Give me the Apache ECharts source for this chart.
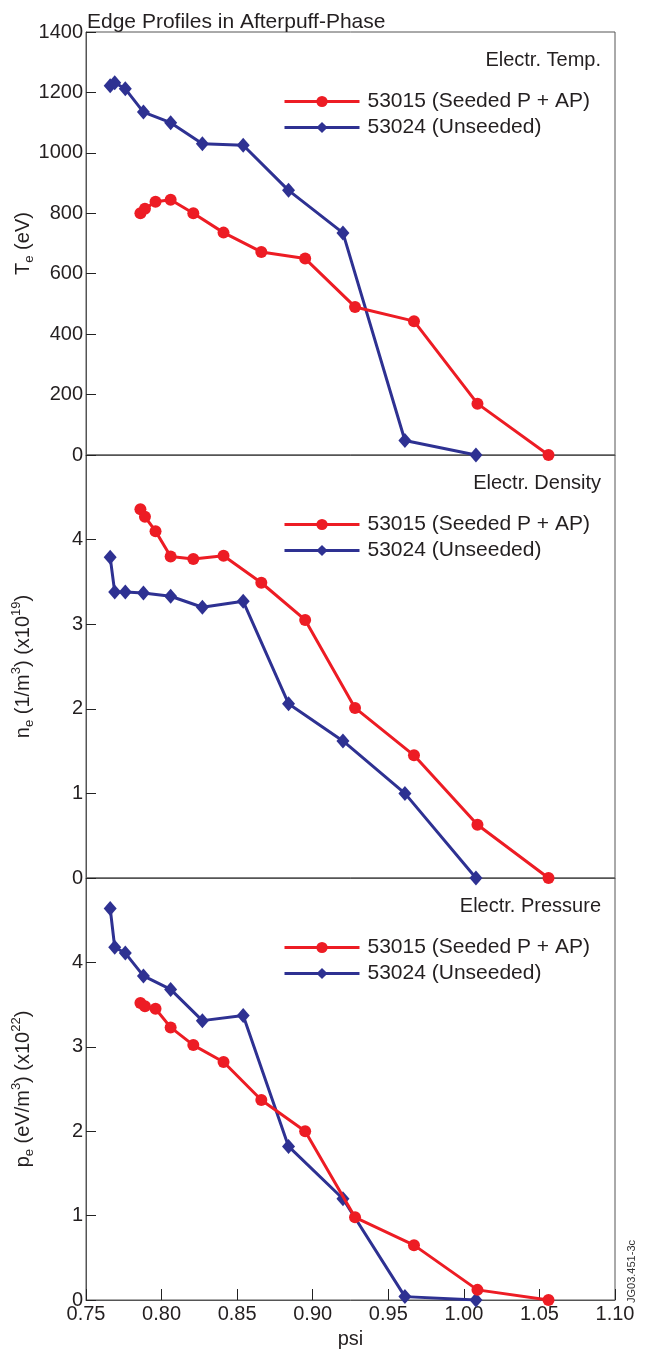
<!DOCTYPE html>
<html>
<head>
<meta charset="utf-8">
<title>Edge Profiles in Afterpuff-Phase</title>
<script src="https://cdn.jsdelivr.net/npm/echarts@6/dist/echarts.min.js"></script>
<style>
  html, body { margin: 0; padding: 0; background: #fff; }
  #main { width: 648px; height: 1354px; }
</style>
</head>
<body>
<div id="main"></div>
<script>
// psi positions of the two shots
var psiSeeded = [0.786, 0.789, 0.796, 0.806, 0.821, 0.841, 0.866, 0.895, 0.928, 0.967, 1.009, 1.056];
var psiUnseeded = [0.766, 0.769, 0.776, 0.788, 0.806, 0.827, 0.854, 0.884, 0.920, 0.961, 1.008];

// electron temperature (eV)
var teSeeded = [800, 815, 838, 845, 800, 736, 672, 650, 490, 443, 170, 0];
var teUnseeded = [1222, 1232, 1212, 1135, 1100, 1030, 1025, 876, 735, 48, 0];

// electron density (x10^19 1/m3)
var neSeeded = [4.36, 4.27, 4.10, 3.80, 3.77, 3.81, 3.49, 3.05, 2.01, 1.45, 0.63, 0];
var neUnseeded = [3.79, 3.38, 3.38, 3.37, 3.33, 3.20, 3.27, 2.06, 1.62, 1.00, 0];

// electron pressure (x10^22 eV/m3)
var peSeeded = [3.52, 3.48, 3.45, 3.23, 3.02, 2.82, 2.37, 2.00, 0.98, 0.65, 0.12, 0];
var peUnseeded = [4.64, 4.18, 4.11, 3.84, 3.68, 3.31, 3.37, 1.82, 1.20, 0.04, 0];

var xTicks = [0.75, 1.10, 0.05];
var panelTitles = ['Electr. Temp.', 'Electr. Density', 'Electr. Pressure'];
var seriesNames = ['53015 (Seeded P + AP)', '53024 (Unseeded)'];

var FONT = '"Liberation Sans", Arial, sans-serif';
var TXT = '#231f20';
var RED = '#ed1c24';
var BLUE = '#2e3192';
var AXIS = '#555555';

function pairs(xs, ys) {
    return xs.map(function(x, i) { return [x, ys[i]]; });
}

var tops = [32, 455, 878];
var heights = [423, 423, 422];

var nameRich = {
    b: { fontSize: 20, lineHeight: 26, verticalAlign: 'middle', color: TXT, fontFamily: FONT },
    sub: { fontSize: 13, lineHeight: 13, verticalAlign: 'bottom', color: TXT, fontFamily: FONT },
    sup: { fontSize: 13, lineHeight: 13, verticalAlign: 'top', color: TXT, fontFamily: FONT }
};

var yNames = [
    '{b|T}{sub|e}{b| (eV)}',
    '{b|n}{sub|e}{b| (1/m}{sup|3}{b|) (x10}{sup|19}{b|)}',
    '{b|p}{sub|e}{b| (eV/m}{sup|3}{b|) (x10}{sup|22}{b|)}'
];
var yMax = [1400, 5, 5];
var yInterval = [200, 1, 1];

var grids = [], xAxes = [], yAxes = [], legends = [], titles = [], series = [];

titles.push({
    text: 'Edge Profiles in Afterpuff-Phase',
    left: 82, top: 7,
    textStyle: { fontFamily: FONT, fontSize: 21, fontWeight: 'normal', color: TXT }
});

for (var i = 0; i < 3; i++) {
    grids.push({
        left: 86, right: 33, top: tops[i], height: heights[i],
        outerBoundsMode: 'none', containLabel: false,
        show: true, borderColor: AXIS, borderWidth: 1, backgroundColor: 'transparent'
    });
    var bottom = (i === 2);
    xAxes.push({
        type: 'value', gridIndex: i,
        min: xTicks[0], max: xTicks[1], interval: xTicks[2],
        name: bottom ? 'psi' : '', nameLocation: 'middle', nameGap: 29, nameMoveOverlap: false,
        nameTextStyle: { fontFamily: FONT, fontSize: 20, color: TXT },
        axisLine: { show: true, lineStyle: { color: AXIS, width: 1 } },
        axisTick: { show: bottom, inside: true, length: 11, lineStyle: { color: '#222' } },
        axisLabel: {
            show: bottom, margin: 4, fontFamily: FONT, fontSize: 20, color: TXT,
            formatter: function(v) { return v.toFixed(2); }
        },
        splitLine: { show: false }
    });
    var mx = yMax[i];
    yAxes.push({
        type: 'value', gridIndex: i,
        min: 0, max: mx, interval: yInterval[i],
        name: yNames[i], nameLocation: 'middle', nameGap: 50, nameMoveOverlap: false,
        nameTextStyle: { rich: nameRich },
        axisLine: { show: true, lineStyle: { color: AXIS, width: 1 } },
        axisTick: { show: true, inside: true, length: 10, lineStyle: { color: '#222' } },
        axisLabel: {
            margin: 3, fontFamily: FONT, fontSize: 20, color: TXT,
            formatter: (function(m) {
                return function(v) { return (m === 5 && v === 5) ? '' : String(v); };
            })(mx)
        },
        splitLine: { show: false }
    });
    titles.push({
        text: panelTitles[i],
        right: 42, top: tops[i] + 13,
        textStyle: { fontFamily: FONT, fontSize: 20, fontWeight: 'normal', color: TXT }
    });
    legends.push({
        orient: 'vertical', left: 278, top: tops[i] + 54,
        itemWidth: 75, itemHeight: 14, itemGap: 5,
        data: seriesNames,
        lineStyle: { width: 3 },
        textStyle: { fontFamily: FONT, fontSize: 21, color: TXT, lineHeight: 20, padding: [0, 0, 0, 3] }
    });

    var ys = [teSeeded, neSeeded, peSeeded][i];
    var yu = [teUnseeded, neUnseeded, peUnseeded][i];
    series.push({
        name: seriesNames[0], type: 'line', xAxisIndex: i, yAxisIndex: i,
        data: pairs(psiSeeded, ys),
        symbol: 'circle', symbolSize: 12,
        lineStyle: { color: RED, width: 3 },
        itemStyle: { color: RED },
        z: 3
    });
    series.push({
        name: seriesNames[1], type: 'line', xAxisIndex: i, yAxisIndex: i,
        data: pairs(psiUnseeded, yu),
        symbol: 'diamond', symbolSize: [13, 15],
        lineStyle: { color: BLUE, width: 3 },
        itemStyle: { color: BLUE },
        z: 2
    });
}

var myChart = echarts.init(document.getElementById('main'), null, { renderer: 'canvas' });
var option = {
    backgroundColor: '#ffffff',
    animation: false,
    title: titles,
    legend: legends,
    grid: grids,
    xAxis: xAxes,
    yAxis: yAxes,
    series: series,
    graphic: [{
        type: 'text',
        left: 626, top: 1240,
        rotation: Math.PI / 2,
        style: { text: 'JG03.451-3c', fontFamily: FONT, fontSize: 11, fill: '#333' }
    }]
};
myChart.setOption(option);
</script>
</body>
</html>
